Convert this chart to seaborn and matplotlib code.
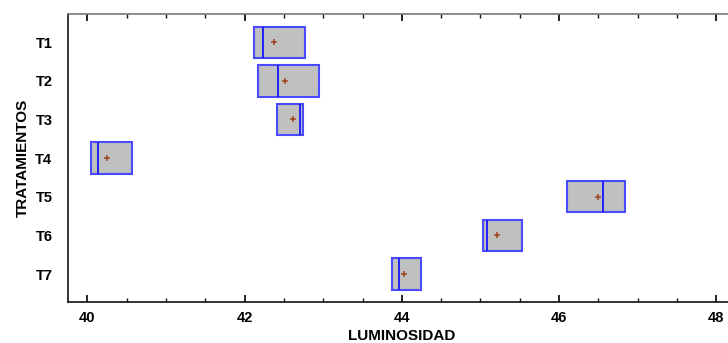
import numpy as np
import pandas as pd
import seaborn as sns
import matplotlib.pyplot as plt
from matplotlib.ticker import MultipleLocator

# ---- data ----
tratamientos = ["T1", "T2", "T3", "T4", "T5", "T6", "T7"]
minimos  = [42.12, 42.17, 42.41, 40.04, 46.10, 45.03, 43.88]
medianas = [42.24, 42.42, 42.71, 40.14, 46.56, 45.08, 43.97]
maximos  = [42.77, 42.94, 42.74, 40.57, 46.84, 45.53, 44.24]
x_ticks = [40, 42, 44, 46, 48]

# three observations per treatment
obs = pd.DataFrame({
    "TRATAMIENTOS": np.repeat(tratamientos, 3),
    "LUMINOSIDAD": np.ravel(np.column_stack([minimos, medianas, maximos])),
})
# box hinges at min / max (as in the original software): duplicate the extremes
box = pd.DataFrame({
    "TRATAMIENTOS": np.repeat(tratamientos, 5),
    "LUMINOSIDAD": np.ravel(np.column_stack([minimos, minimos, medianas, maximos, maximos])),
})

sns.set_style("white")
plt.rcParams['font.family'] = ['Liberation Sans', 'DejaVu Sans']
plt.rcParams['font.weight'] = 'bold'
plt.rcParams['text.color'] = 'black'
plt.rcParams['axes.labelcolor'] = 'black'
plt.rcParams['xtick.color'] = 'black'
plt.rcParams['ytick.color'] = 'black'
plt.rcParams['xtick.labelcolor'] = 'black'
plt.rcParams['ytick.labelcolor'] = 'black'

fig = plt.figure(figsize=(7.28, 3.43), dpi=100)
ax = fig.add_axes([0.093, 0.1187, 0.918, 0.8405])

sns.boxplot(data=box, x="LUMINOSIDAD", y="TRATAMIENTOS", order=tratamientos,
            orient="h", width=0.81, color="#c0c0c0", linecolor="#4a4aff",
            linewidth=1.5, whis=0, showcaps=False, showfliers=False,
            medianprops=dict(color="#1515ff", linewidth=1.3), ax=ax)

sns.pointplot(data=obs, x="LUMINOSIDAD", y="TRATAMIENTOS", order=tratamientos,
              orient="h", estimator="mean", errorbar=None, linestyle="none",
              markers="+", markersize=5, markeredgewidth=1.1,
              color="#a0461e", ax=ax, zorder=5)

ax.set_xlim(39.75, 48.25)
ax.set_ylim(6.73, -0.73)
ax.set_xticks(x_ticks)
ax.xaxis.set_minor_locator(MultipleLocator(0.5))
ax.tick_params(axis="x", which="major", direction="in", top=True, bottom=True,
               length=5, width=1.3, labelsize=10.5, pad=6, color="#111111",
               labelcolor="black")
ax.tick_params(axis="x", which="minor", direction="in", top=True, bottom=True,
               length=3, width=1.0, color="#111111")
ax.tick_params(axis="y", length=0, labelsize=10.5, pad=11, labelcolor="black")
for lab in ax.get_xticklabels() + ax.get_yticklabels():
    lab.set_fontweight("bold")

for s in ["left", "bottom"]:
    ax.spines[s].set_color("#111111")
    ax.spines[s].set_linewidth(1.2)
ax.spines["top"].set_color("#777777")
ax.spines["top"].set_linewidth(1.2)
ax.spines["right"].set_color("#777777")

ax.set_xlabel("LUMINOSIDAD", fontsize=11, fontweight="bold", labelpad=3.5,
              color="black")
ax.set_ylabel("TRATAMIENTOS", fontsize=11, fontweight="bold", color="black")
ax.yaxis.set_label_coords(-0.056, 0.5)

fig.savefig("out.png", dpi=100)
